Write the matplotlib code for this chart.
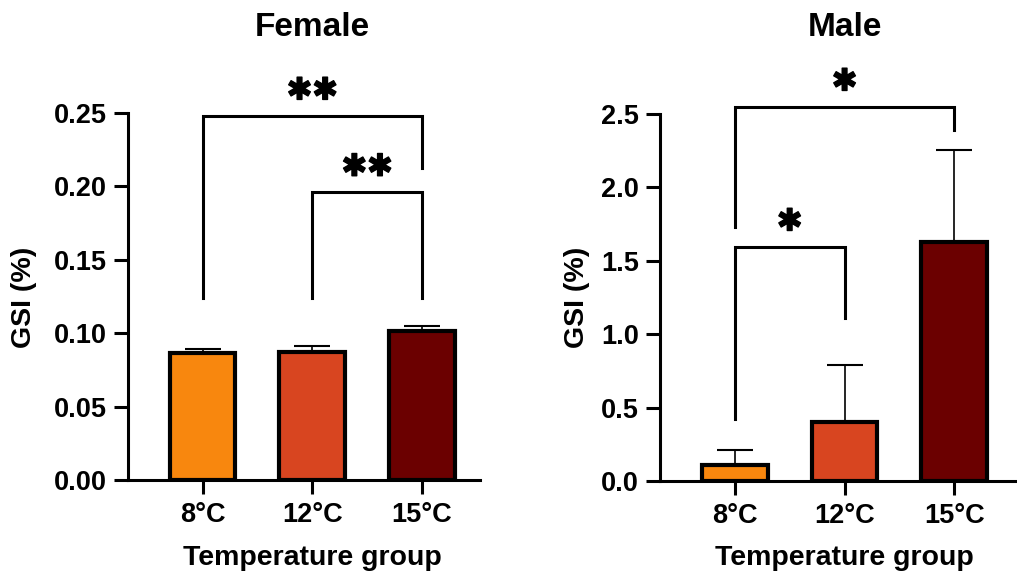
import numpy as np
import matplotlib.pyplot as plt
import matplotlib.transforms as mtransforms
import matplotlib.patheffects as pe
from matplotlib.ticker import FormatStrFormatter, MultipleLocator

plt.rcParams['font.family'] = ['Liberation Sans', 'DejaVu Sans']
plt.rcParams['font.weight'] = 'bold'

# GSI means and SEM per temperature group
groups = ['8°C', '12°C', '15°C']
female_mean = [0.0865, 0.0872, 0.1015]
female_sem = [0.0027, 0.0041, 0.0035]
male_mean = [0.109, 0.402, 1.628]
male_sem = [0.102, 0.388, 0.627]

colors = ['#F8870E', '#D84520', '#6B0000']

# significance brackets: (x0, x1, top, left leg end, right leg end, stars)
female_sig = [(0, 2, 0.248, 0.124, 0.2125, 2),
              (1, 2, 0.196, 0.124, 0.124, 2)]
male_sig = [(0, 2, 2.548, 1.73, 2.39, 1),
            (0, 1, 1.594, 0.42, 1.11, 1)]

W, H = 1017, 578
fig = plt.figure(figsize=(W / 100, H / 100), dpi=100)

ax1 = fig.add_axes([128 / W, 1 - 480 / H, 352 / W, 367 / H])
ax2 = fig.add_axes([660 / W, 1 - 481 / H, 357 / W, 367 / H])


def draw_panel(ax, means, sems, sig, ymax, step, fmt, title):
    x = np.arange(len(groups))
    ax.errorbar(x, means, yerr=[np.zeros(len(sems)), sems], fmt='none',
                ecolor='black', elinewidth=1.2, capsize=13, capthick=1.5,
                zorder=2)
    ax.bar(x, means, width=0.6, color=colors, edgecolor='black',
           linewidth=3, zorder=3)

    ax.set_xlim(-0.68, 2.53 if ymax < 1 else 2.57)
    ax.set_ylim(0, ymax)
    ax.yaxis.set_major_locator(MultipleLocator(step))
    ax.yaxis.set_major_formatter(FormatStrFormatter(fmt))
    ax.set_xticks(x)
    ax.set_xticklabels(groups)

    for s in ['top', 'right']:
        ax.spines[s].set_visible(False)
    for s in ['left', 'bottom']:
        ax.spines[s].set_linewidth(2.2)
    ax.tick_params(axis='both', width=2.2, length=10, labelsize=19.5)
    ax.tick_params(axis='x', pad=6)
    ax.tick_params(axis='y', pad=5)

    for x0, x1, top, yl, yr, n in sig:
        ax.plot([x0, x0, x1, x1], [yl, top, top, yr], color='black', lw=2.2,
                clip_on=False, solid_joinstyle='miter', zorder=4)
        ax.annotate('\u2731' * n, xy=((x0 + x1) / 2, top), xytext=(0, 18),
                    textcoords='offset points', ha='center', va='center',
                    fontsize=22, family='DejaVu Sans',
                    annotation_clip=False,
                    path_effects=[pe.withStroke(linewidth=1, foreground='black')])

    blend = mtransforms.blended_transform_factory(ax.transData, fig.transFigure)
    fig.text(1, 1 - 558 / H, 'Temperature group', transform=blend,
             ha='center', va='center', fontsize=20.5, fontweight='bold')
    fig.text(1, 1 - 27 / H, title, transform=blend,
             ha='center', va='center', fontsize=24, fontweight='bold')


draw_panel(ax1, female_mean, female_sem, female_sig, 0.25, 0.05, '%.2f',
           'Female')
draw_panel(ax2, male_mean, male_sem, male_sig, 2.5, 0.5, '%.1f', 'Male')

fig.text(24 / W, 1 - 297 / H, 'GSI (%)', rotation=90, ha='center',
         va='center', fontsize=20.5, fontweight='bold')
fig.text(577 / W, 1 - 297 / H, 'GSI (%)', rotation=90, ha='center',
         va='center', fontsize=20.5, fontweight='bold')

fig.savefig('out.png', dpi=100)
